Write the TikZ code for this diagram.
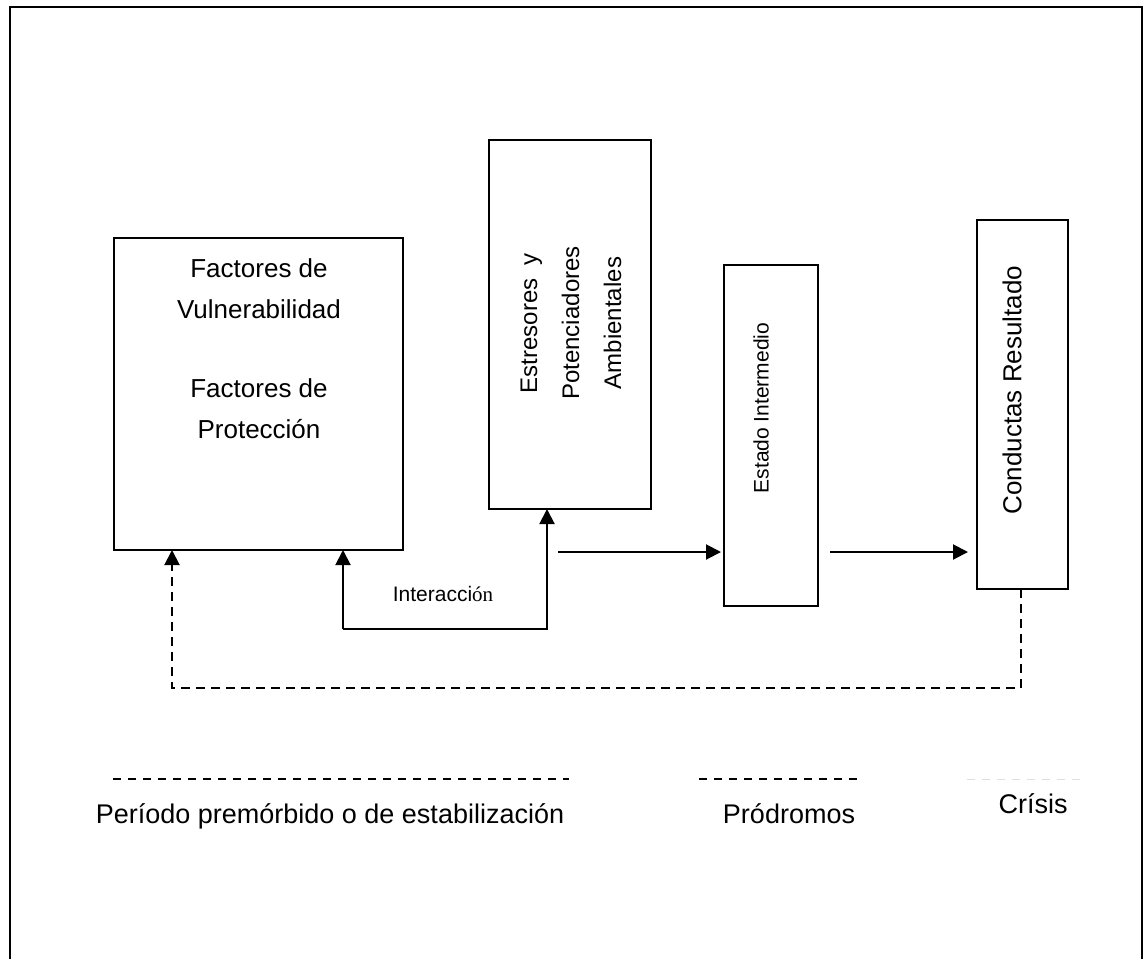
\documentclass[tikz,border=0pt]{standalone}
\usepackage{fontspec}
\setmainfont{Liberation Sans}
\newfontfamily\accentfont{Liberation Serif}
\usetikzlibrary{arrows.meta}
\begin{document}
\begin{tikzpicture}[x=1pt,y=-1pt,
  box/.style={draw, line width=2pt, inner sep=0pt, outer sep=0pt, anchor=north west},
  lbl/.style={inner sep=0pt, font=\fontsize{26}{41}\selectfont, align=center},
  vlbl/.style={lbl, rotate=90},
  arr/.style={line width=2pt, -{Triangle[length=15pt,width=15pt]}},
  back/.style={line width=2pt, dash pattern=on 9pt off 6pt, -{Triangle[length=15pt,width=15pt]}},
  phase/.style={line width=2pt, dash pattern=on 8pt off 7pt},
  phasefaint/.style={line width=1pt, gray!25, dash pattern=on 8pt off 7pt},
  caption/.style={inner sep=0pt, font=\fontsize{27}{32}\selectfont, anchor=base},
]
\useasboundingbox (0,0) rectangle (1147,959);
% outer frame, open at the foot of the page
\draw[line width=2pt] (10,959) -- (10,7) -- (1142,7) -- (1142,959);

% the four stages
\node[box, minimum width=289pt, minimum height=312pt] (vul) at (114,238) {};
\node[box, minimum width=162pt, minimum height=369pt] (est) at (489,140) {};
\node[box, minimum width=94pt, minimum height=341pt] (int) at (724,265) {};
\node[box, minimum width=91pt, minimum height=369pt] (res) at (977,220) {};

% the base anchor of a multi-line label sits on its last line
\node[lbl, anchor=base] (vultxt) at (259,438)
  {Factores de\\Vulnerabilidad\\[38pt]Factores de\\Protecci\'on};
\node[vlbl, font=\fontsize{24}{42}\selectfont] (esttxt) at (571,323)
  {Estresores\ \ y\\Potenciadores\\Ambientales};
\node[vlbl, font=\fontsize{21}{26}\selectfont] (inttxt) at (761,408) {Estado Intermedio};
\node[vlbl] (restxt) at (1012,390) {Conductas Resultado};

% interaction loop between the first two stages
\coordinate (ia) at (343,629);
\coordinate (ib) at (547,629);
\draw[arr] (ia) -- (ia |- vul.south);
\draw[arr] (ia) -- (ib) -- (ib |- est.south);
\node[inner sep=0pt, font=\fontsize{21}{25}\selectfont, anchor=base] (inter) at (443,601)
  {Interacci{\accentfont \'on}};

% forward arrows
\coordinate (h1) at (558,552);
\coordinate (h2) at (830,552);
\draw[arr, shorten >=3pt] (h1) -- (h1 -| int.west);
\draw[arr, shorten >=9pt] (h2) -- (h2 -| res.west);

% feedback from the outcome back to the first stage
\coordinate (fr) at (1021,688);
\coordinate (fl) at (172,688);
\draw[back] (fr |- res.south) -- (fr) -- (fl) -- (fl |- vul.south);

% phases
\coordinate (p1a) at (113,779); \coordinate (p1b) at (569,779);
\coordinate (p2a) at (699,779); \coordinate (p2b) at (859,779);
\coordinate (p3a) at (967,779); \coordinate (p3b) at (1087,779);
\draw[phase] (p1a) -- (p1b);
\draw[phase] (p2a) -- (p2b);
\draw[phasefaint] (p3a) -- (p3b);
\node[caption] (ph1) at (330,823) {Per\'iodo prem\'orbido o de estabilizaci\'on};
\node[caption] (ph2) at (789,823) {Pr\'odromos};
\node[caption] (ph3) at (1033,813) {Cr\'isis};
\end{tikzpicture}
\end{document}
